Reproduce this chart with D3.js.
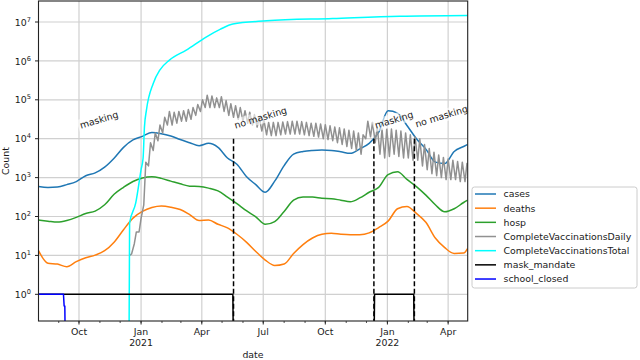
<!DOCTYPE html>
<html>
<head>
<meta charset="utf-8">
<script src="https://d3js.org/d3.v7.min.js"></script>
<style>
  body { margin: 0; background: #fff; }
  text { font-family: "DejaVu Sans", sans-serif; fill: #1a1a1a; }
</style>
</head>
<body>
<svg width="640" height="360"></svg>
<script>
var parse = d3.utcParse("%Y-%m-%d");

// smooth series: one value every two weeks from 2020-08-02, the last is 2022-04-30
var smoothStart = "2020-08-02";
var smoothEnd = "2022-04-30";
var casesValues = [590, 560, 575, 660, 790, 1120, 1320, 1860, 3160, 6000, 9300, 11500, 14500, 13500,
  11700, 9500, 7900, 6600, 7600, 6000, 3200, 2200, 1070, 660, 420, 810, 2040, 4000, 4700, 5000, 5100,
  5000, 4600, 4200, 5500, 7600, 14500, 52000, 45500, 21900, 10000, 5400, 2500, 2300, 4700, 6300, 7100];
var deathsValues = [13.2, 6.3, 6.0, 5.1, 6.9, 8.7, 10.2, 13.2, 21.9, 45.7, 91, 135, 170, 186, 174, 151,
  112, 79, 81, 63, 51, 35, 22, 12.6, 7.6, 5.5, 6.0, 11.2, 19, 28, 35, 37, 35, 34, 34, 38, 52, 76, 158,
  182, 120, 71, 28, 15.8, 11.2, 11.5, 15.1];
var hospValues = [81, 76, 72, 79, 95, 120, 138, 200, 372, 562, 794, 977, 1047, 955, 813, 692, 603, 589,
  537, 457, 316, 214, 141, 98, 63, 74, 135, 263, 316, 316, 295, 288, 263, 240, 300, 420, 560, 1200,
  1410, 900, 589, 355, 200, 132, 158, 229, 263];

// daily completed vaccinations: weekly low (weekend) and high (midweek), weeks from 2020-12-15
var vaxWeekStart = "2020-12-15";
var vaxDailyLow = [10, 20, 40, 200, 2000, 5000, 8900, 14100, 22400, 22400, 25100, 28200, 28200, 31600,
  39800, 50100, 63100, 63100, 63100, 63100, 50100, 39800, 35500, 31600, 28200, 25100, 22400, 20000,
  15800, 12600, 12000, 12000, 12600, 13200, 13200, 13200, 13200, 12600, 12000, 11500, 11000, 10000,
  9500, 8900, 7900, 7100, 6300, 5600, 5000, 4000, 10000, 11200, 7900, 4000, 3200, 3500, 4000, 3500,
  3200, 3200, 2800, 2800, 2000, 1600, 1260, 1120, 1000, 890, 890, 890, 790, 790];
var vaxDailyHigh = [11, 40, 90, 2500, 7900, 14100, 22400, 35500, 50100, 47900, 50100, 52500, 56200,
  63100, 75900, 100000, 131800, 125900, 112200, 120200, 95500, 79400, 70800, 63100, 52500, 47900,
  41700, 35500, 30200, 26300, 26300, 26300, 26900, 27500, 28200, 28200, 27500, 26300, 25100, 25100,
  24000, 22900, 21400, 20000, 19100, 17800, 16600, 15800, 14100, 12600, 28200, 26300, 20000, 17800,
  17800, 17800, 16600, 15800, 14100, 12600, 11200, 10000, 7100, 5600, 4500, 3800, 3300, 3000, 2800,
  2600, 2500, 2400];

// cumulative completed vaccinations
var vaxTotalDates = ["2020-12-14", "2020-12-15", "2020-12-24", "2021-01-01", "2021-01-04", "2021-01-06",
  "2021-01-09", "2021-01-19", "2021-01-29", "2021-02-12", "2021-03-09", "2021-04-08", "2021-04-28",
  "2021-05-17", "2021-07-06", "2021-10-12", "2022-01-19", "2022-04-30"];
var vaxTotalValues = [0, 68, 220, 1600, 3200, 20000, 55000, 263000, 589000, 1050000, 1900000, 4170000,
  6460000, 8910000, 10700000, 12300000, 14100000, 14800000];

// policy indicators (0 drops off the log axis)
var maskDates = ["2020-08-02", "2021-05-17", "2021-05-18", "2021-12-12", "2021-12-13", "2022-02-09",
  "2022-02-10", "2022-04-30"];
var maskValues = [1, 1, 0, 0, 1, 1, 0, 0];
var schoolDates = ["2020-08-02", "2020-09-08", "2020-09-09", "2020-09-10", "2020-09-11", "2022-04-30"];
var schoolValues = [1, 1, 0.5, 0.5, 0, 0];

var changeDates = ["2021-05-18", "2021-12-12", "2022-02-10"];
var noteLabels = ["masking", "no masking", "masking", "no masking"];
var noteDates = ["2020-10-04", "2021-05-21", "2021-12-15", "2022-02-13"];
var noteValues = [18000, 18000, 18000, 19500];

var xTickDates = ["2020-10-01", "2021-01-01", "2021-04-01", "2021-07-01", "2021-10-01", "2022-01-01", "2022-04-01"];
var xTickLabels = [["Oct"], ["Jan", "2021"], ["Apr"], ["Jul"], ["Oct"], ["Jan", "2022"], ["Apr"]];
var yTickExponents = [0, 1, 2, 3, 4, 5, 6, 7];

var legendNames = ["cases", "deaths", "hosp", "CompleteVaccinationsDaily", "CompleteVaccinationsTotal", "mask_mandate", "school_closed"];
var colors = ["#1f77b4", "#ff7f0e", "#2ca02c", "#919191", "#00ffff", "#000000", "#0000ff"];

var svg = d3.select("svg");
var pL = 38.5, pR = 467.7, pT = 1, pB = 321;

var x = d3.scaleUtc().domain([parse("2020-08-02"), parse("2022-04-30")]).range([pL, pR]);
var y = d3.scaleLog().domain([Math.pow(10, -0.686), Math.pow(10, 7.54)]).range([pB, pT]);
var yv = function (v) { return v > 0 ? y(v) : pB + 40; };

svg.append("clipPath").attr("id", "plot")
  .append("rect").attr("x", pL).attr("y", pT).attr("width", pR - pL).attr("height", pB - pT);

// grid
var grid = svg.append("g").attr("stroke", "#d0d0d0").attr("stroke-width", 1.2);
xTickDates.forEach(function (d) {
  grid.append("line").attr("x1", x(parse(d))).attr("x2", x(parse(d))).attr("y1", pT).attr("y2", pB);
});
yTickExponents.forEach(function (e) {
  grid.append("line").attr("x1", pL).attr("x2", pR).attr("y1", y(Math.pow(10, e))).attr("y2", y(Math.pow(10, e)));
});

// series data
var smoothDates = d3.range(casesValues.length - 1).map(function (i) {
  return d3.utcDay.offset(parse(smoothStart), 14 * i);
}).concat([parse(smoothEnd)]);

function pairs(dates, values) {
  return values.map(function (v, i) { return [dates[i], v]; });
}
var vaxDaily = [];
vaxDailyLow.forEach(function (v, i) {
  var d = d3.utcDay.offset(parse(vaxWeekStart), 7 * i);
  vaxDaily.push([d, v]);
  vaxDaily.push([d3.utcDay.offset(d, 3), vaxDailyHigh[i]]);
});

var series = [
  { data: pairs(smoothDates, casesValues), curve: d3.curveMonotoneX },
  { data: pairs(smoothDates, deathsValues), curve: d3.curveMonotoneX },
  { data: pairs(smoothDates, hospValues), curve: d3.curveMonotoneX },
  { data: vaxDaily, curve: d3.curveLinear },
  { data: pairs(vaxTotalDates.map(parse), vaxTotalValues), curve: d3.curveMonotoneX },
  { data: pairs(maskDates.map(parse), maskValues), curve: d3.curveLinear },
  { data: pairs(schoolDates.map(parse), schoolValues), curve: d3.curveLinear }
];

var plot = svg.append("g").attr("clip-path", "url(#plot)");
series.forEach(function (s, i) {
  var line = d3.line().curve(s.curve)
    .x(function (d) { return x(d[0]); })
    .y(function (d) { return yv(d[1]); });
  plot.append("path").attr("d", line(s.data))
    .attr("fill", "none").attr("stroke", colors[i]).attr("stroke-width", 1.5)
    .attr("stroke-linejoin", "round");
});

// dashed lines at mandate changes
changeDates.forEach(function (d) {
  plot.append("line").attr("x1", x(parse(d))).attr("x2", x(parse(d)))
    .attr("y1", y(1e4)).attr("y2", pB)
    .attr("stroke", "#000").attr("stroke-width", 1.5).attr("stroke-dasharray", "5,2.5");
});

// notes with light boxes
noteLabels.forEach(function (t, i) {
  var g = svg.append("g")
    .attr("transform", "translate(" + x(parse(noteDates[i])) + "," + y(noteValues[i]) + ") rotate(-17)");
  var txt = g.append("text").attr("font-size", 9.4).text(t);
  var w = txt.node().getComputedTextLength();
  g.insert("rect", "text").attr("x", -2).attr("y", -9.5).attr("width", w + 4).attr("height", 12.5)
    .attr("fill", "#fff").attr("fill-opacity", 0.6);
});

// spines
svg.append("rect").attr("x", pL).attr("y", pT).attr("width", pR - pL).attr("height", pB - pT)
  .attr("fill", "none").attr("stroke", "#222").attr("stroke-width", 1.1);

// x axis ticks
var minor = d3.utcMonth.range(parse("2020-09-01"), parse("2022-05-01"));
minor.forEach(function (d) {
  svg.append("line").attr("x1", x(d)).attr("x2", x(d)).attr("y1", pB).attr("y2", pB + 2)
    .attr("stroke", "#222").attr("stroke-width", 0.8);
});
xTickDates.forEach(function (d, i) {
  var xx = x(parse(d));
  svg.append("line").attr("x1", xx).attr("x2", xx).attr("y1", pB).attr("y2", pB + 3.5)
    .attr("stroke", "#222").attr("stroke-width", 1);
  xTickLabels[i].forEach(function (s, j) {
    svg.append("text").attr("x", xx).attr("y", 335 + j * 11.3).attr("text-anchor", "middle")
      .attr("font-size", 9.4).text(s);
  });
});

// y axis ticks
yTickExponents.forEach(function (e) {
  var yy = y(Math.pow(10, e));
  svg.append("line").attr("x1", pL - 3.5).attr("x2", pL).attr("y1", yy).attr("y2", yy)
    .attr("stroke", "#222").attr("stroke-width", 1);
  var t = svg.append("text").attr("x", 31).attr("y", yy + 3.6).attr("text-anchor", "end").attr("font-size", 9.4);
  t.append("tspan").text("10");
  t.append("tspan").attr("font-size", 6.6).attr("dy", -4).text(e);
});

svg.append("text").attr("transform", "translate(9,161) rotate(-90)").attr("text-anchor", "middle")
  .attr("font-size", 9.4).text("Count");
svg.append("text").attr("x", 253).attr("y", 358).attr("text-anchor", "middle")
  .attr("font-size", 9.4).text("date");

// legend
var lg = svg.append("g");
lg.append("rect").attr("x", 472).attr("y", 187).attr("width", 165).attr("height", 101).attr("rx", 2.5)
  .attr("fill", "#fff").attr("fill-opacity", 0.8).attr("stroke", "#cccccc").attr("stroke-width", 1);
legendNames.forEach(function (n, i) {
  var ly = 194 + i * 14.17;
  lg.append("line").attr("x1", 475).attr("x2", 496).attr("y1", ly).attr("y2", ly)
    .attr("stroke", colors[i]).attr("stroke-width", 1.5);
  lg.append("text").attr("x", 503.5).attr("y", ly + 3.4).attr("font-size", 9.4).text(n);
});
</script>
</body>
</html>
